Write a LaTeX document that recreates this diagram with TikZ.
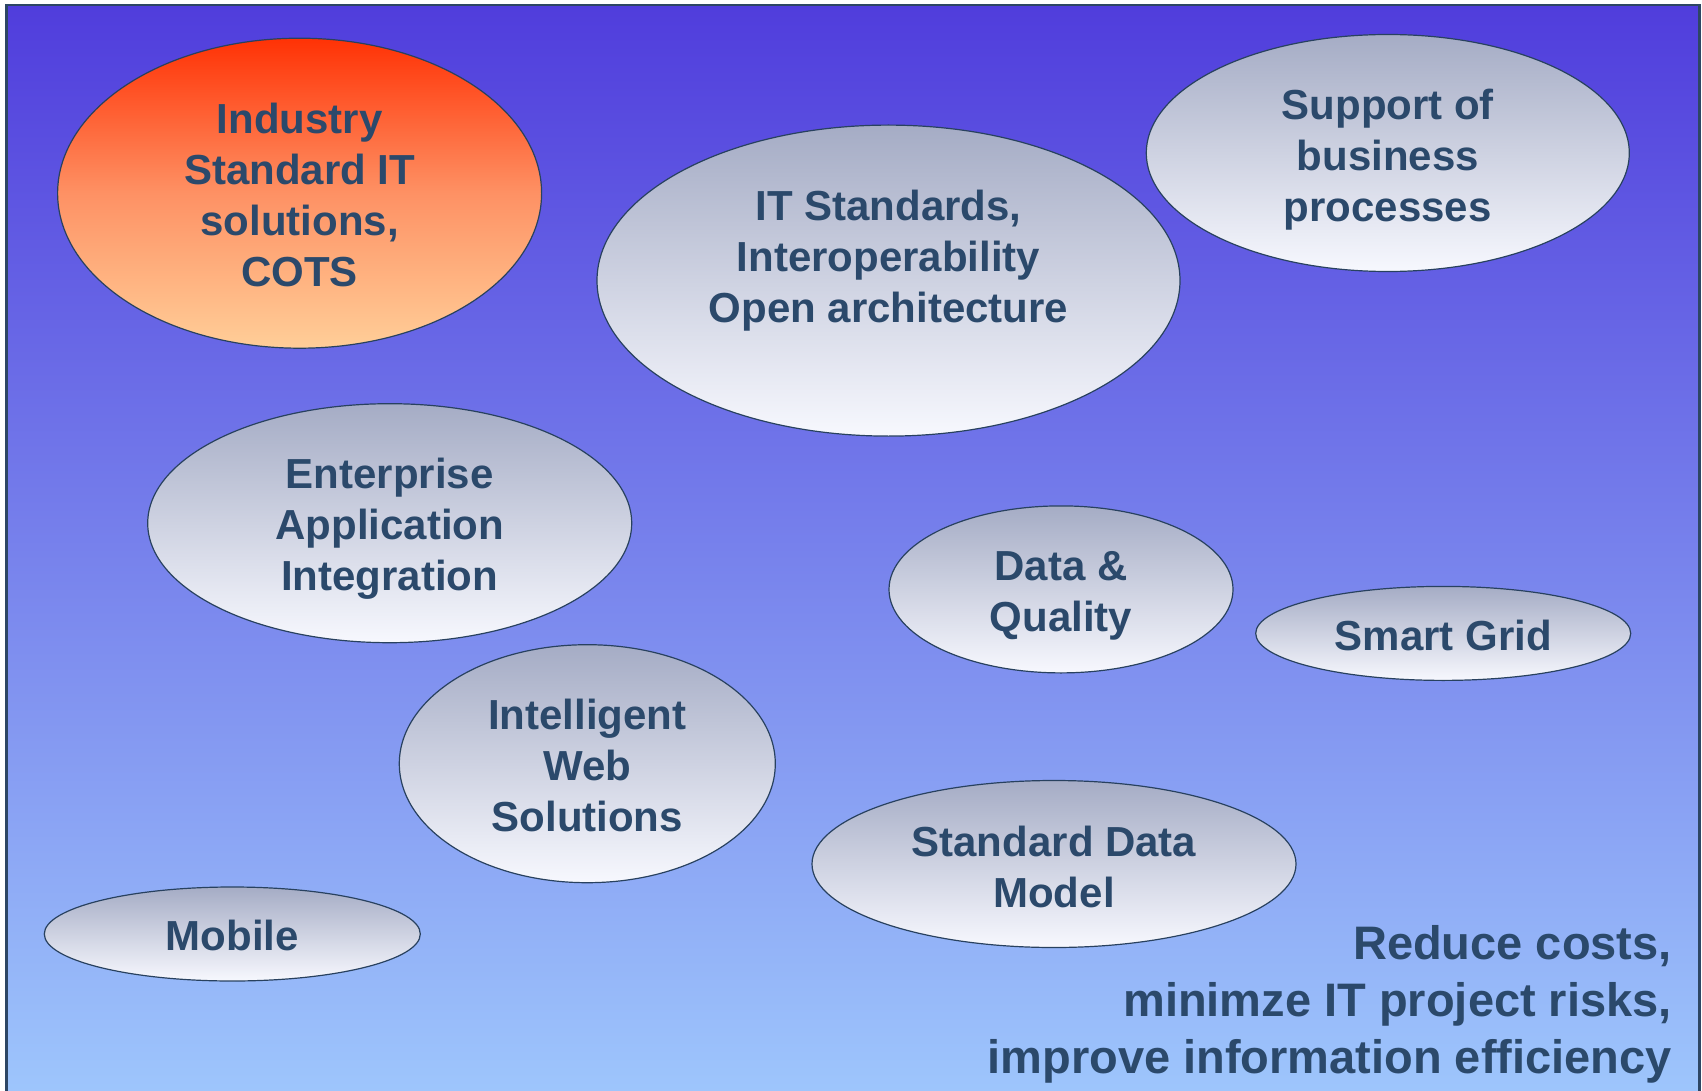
\documentclass[tikz,border=0pt]{standalone}
\usepackage{fontspec}
\setmainfont{Liberation Sans}
\usetikzlibrary{shapes.geometric}
\definecolor{textc}{RGB}{43,73,107}
\definecolor{bgtop}{RGB}{80,61,220}
\definecolor{bgbot}{RGB}{158,198,252}
\definecolor{framec}{RGB}{45,70,100}
\definecolor{edgec}{RGB}{40,65,95}
\definecolor{gtop}{RGB}{165,172,197}
\definecolor{gbot}{RGB}{247,248,254}
\definecolor{otop}{RGB}{255,50,5}
\definecolor{omid}{RGB}{254,145,100}
\definecolor{obot}{RGB}{255,206,152}
\tikzset{
  ell/.style={ellipse, draw=edgec, line width=1.2pt, inner sep=0pt},
  gell/.style={ell, top color=gtop, bottom color=gbot},
  oell/.style={ell, top color=otop, bottom color=obot, middle color=omid},
  txt/.style={font=\fontsize{42}{51}\selectfont\bfseries, text=textc, align=center, inner sep=0pt},
  bigtxt/.style={font=\fontsize{47}{57}\selectfont\bfseries, text=textc, align=right, inner sep=0pt}
}
\begin{document}
\begin{tikzpicture}[x=1pt,y=1pt]
\useasboundingbox (0,0) rectangle (1702,-1091);
\fill[white] (0,0) rectangle (1702,-1091);
\shade[top color=bgtop, bottom color=bgbot] (6.5,-5) rectangle (1699.5,-1095);
\draw[framec, line width=2.5pt] (6.5,-1095) -- (6.5,-5) -- (1699.5,-5) -- (1699.5,-1095);

\node[oell, minimum width=484, minimum height=310] (e1) at (299.6,-193.2) {};
\node[gell, minimum width=583, minimum height=311] (e2) at (888.5,-280.6) {};
\node[gell, minimum width=483, minimum height=237] (e3) at (1387.8,-153) {};
\node[gell, minimum width=484, minimum height=239] (e4) at (389.7,-523.2) {};
\node[gell, minimum width=344, minimum height=167] (e5) at (1061,-589.4) {};
\node[gell, minimum width=375, minimum height=94] (e6) at (1443.2,-633.4) {};
\node[gell, minimum width=376, minimum height=238] (e7) at (587.3,-763.7) {};
\node[gell, minimum width=484, minimum height=167] (e8) at (1054,-864) {};
\node[gell, minimum width=376, minimum height=94] (e9) at (232.3,-934) {};

\node[txt] (t1) at (299.6,-194.5) {Industry\\Standard IT\\solutions,\\COTS};
\node[txt] (t2) at (888.5,-261) {IT Standards,\\Interoperability\\Open architecture};
\node[txt] (t3) at (1387.8,-160) {Support of\\business\\processes};
\node[txt] (t4) at (389.7,-528.5) {Enterprise\\Application\\Integration};
\node[txt] (t5) at (1061,-596) {Data \&\\Quality};
\node[txt] (t6) at (1443.2,-635) {Smart Grid};
\node[txt] (t7) at (587.3,-765.5) {Intelligent\\Web\\Solutions};
\node[txt] (t8) at (1054,-867) {Standard Data\\Model};
\node[txt] (t9) at (232.3,-935.5) {Mobile};

\node[bigtxt, anchor=south east] (goal) at (1672,-1083) {Reduce costs,\\minimze IT project risks,\\improve information efficiency};
\end{tikzpicture}
\end{document}
